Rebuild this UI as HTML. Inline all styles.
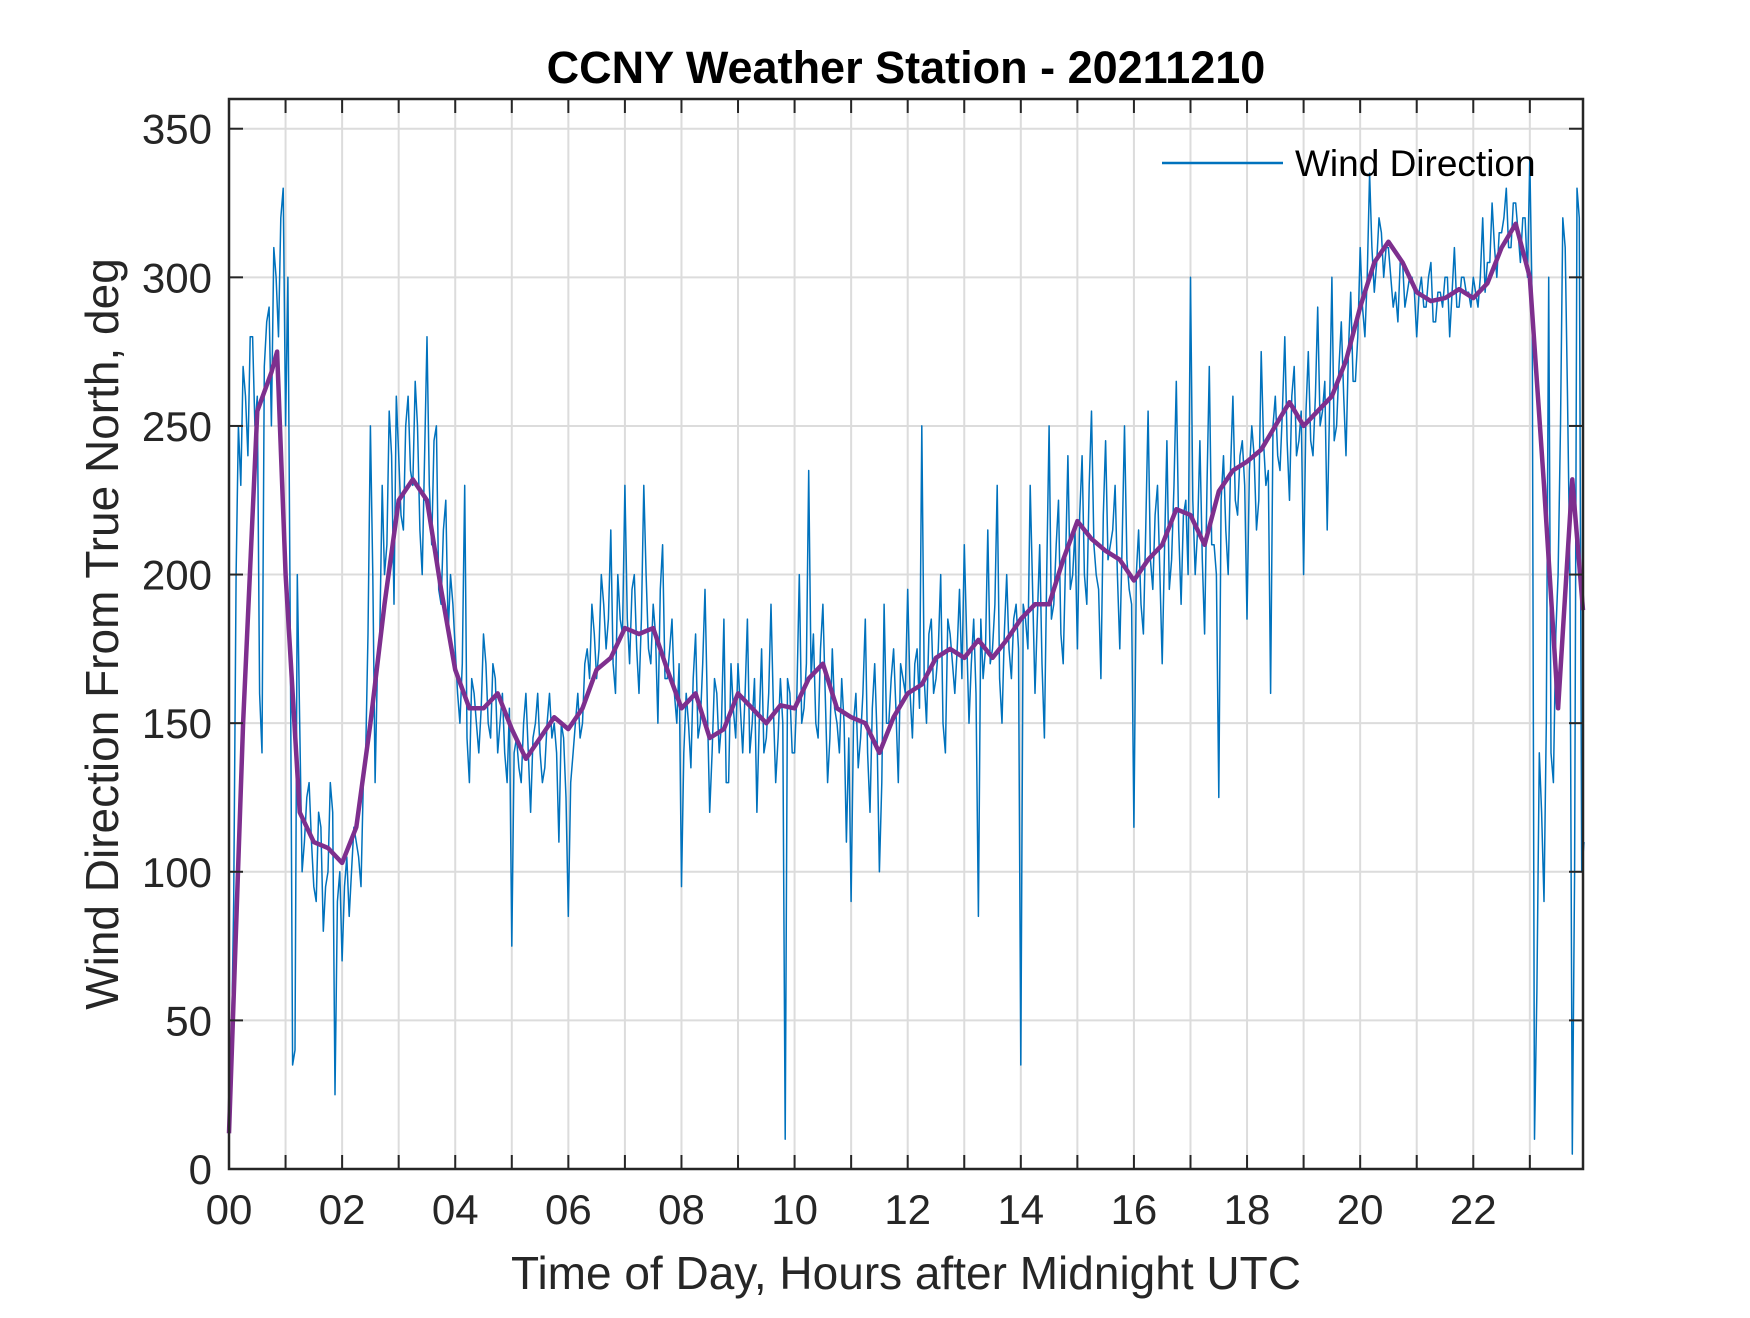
<!DOCTYPE html>
<html><head><meta charset="utf-8"><style>
html,body{margin:0;padding:0;background:#fff;}
svg text{font-family:"Liberation Sans",Arial,sans-serif;fill:#262626;}
</style></head><body>
<svg id="chart" width="1750" height="1313" viewBox="0 0 1750 1313" xmlns="http://www.w3.org/2000/svg">
<rect width="1750" height="1313" fill="#fff"/>
<g id="grid"></g>
<g id="plot"></g>
<g id="axes"></g>
<text x="906" y="83" text-anchor="middle" font-size="45" font-weight="bold" style="fill:#000">CCNY Weather Station - 20211210</text>
<text x="906" y="1289" text-anchor="middle" font-size="46">Time of Day, Hours after Midnight UTC</text>
<text transform="translate(118,634) rotate(-90)" text-anchor="middle" font-size="46">Wind Direction From True North, deg</text>
<g>
<line x1="1162" y1="163" x2="1283" y2="163" stroke="#0072BD" stroke-width="2.5"/>
<text x="1295" y="176" font-size="37" style="fill:#000">Wind Direction</text>
</g>
</svg>
<script>
const xTicks=[0,2,4,6,8,10,12,14,16,18,20,22];
const xTickLabels=["00","02","04","06","08","10","12","14","16","18","20","22"];
const yTicks=[0,50,100,150,200,250,300,350];
const smoothTimes=[0,0.25,0.5,0.75,0.85,1,1.25,1.5,1.75,2,2.25,2.5,2.75,3,3.25,3.5,3.75,4,4.25,4.5,4.75,5,5.25,5.5,5.75,6,6.25,6.5,6.75,7,7.25,7.5,7.75,8,8.25,8.5,8.75,9,9.25,9.5,9.75,10,10.25,10.5,10.75,11,11.25,11.5,11.75,12,12.25,12.5,12.75,13,13.25,13.5,13.75,14,14.25,14.5,14.75,15,15.25,15.5,15.75,16,16.25,16.5,16.75,17,17.25,17.5,17.75,18,18.25,18.5,18.75,19,19.25,19.5,19.75,20,20.25,20.5,20.75,21,21.25,21.5,21.75,22,22.25,22.5,22.75,23,23.25,23.5,23.75,23.94];
const smoothValues=[12,150,255,268,275,200,120,110,108,103,115,150,190,225,232,225,195,168,155,155,160,148,138,145,152,148,155,168,172,182,180,182,168,155,160,145,148,160,155,150,156,155,165,170,155,152,150,140,152,160,163,172,175,172,178,172,178,185,190,190,205,218,212,208,205,198,205,210,222,220,210,228,235,238,242,250,258,250,255,260,272,290,305,312,305,295,292,293,296,293,298,310,318,300,230,155,232,188];
const rawValues=[
30,90,250,270,240,280,260,140,285,250,300,320,
250,180,40,150,110,130,95,120,80,100,120,90,
70,105,100,110,95,140,250,130,180,200,255,190,
240,215,260,230,250,200,280,210,250,190,225,200,
175,150,230,130,160,140,180,150,170,140,160,130,
75,145,130,160,120,150,140,135,160,150,110,145,
85,140,160,150,175,190,165,200,175,215,160,185,
230,170,200,160,230,175,190,150,210,165,185,150,
95,160,135,180,150,195,120,165,140,185,130,155,
170,140,185,150,120,175,145,190,130,165,10,160,
140,200,155,235,180,145,190,130,175,150,165,110,
90,160,145,185,120,170,100,190,150,175,130,165,
195,145,175,250,150,185,165,200,140,180,160,195,
210,150,185,85,165,215,175,230,150,200,165,190,
35,185,230,160,210,145,250,190,225,170,240,200,
175,240,190,255,200,165,245,210,230,175,250,195,
115,215,180,255,195,230,170,245,205,265,190,225,
300,200,245,180,270,210,125,240,200,260,220,245,
185,250,215,275,230,160,260,235,280,225,270,245,
200,275,240,290,255,215,300,250,285,240,295,265,
310,280,335,295,320,300,310,290,285,305,295,300,
280,300,290,305,285,295,300,280,310,290,300,295,
300,290,320,305,325,300,315,330,310,325,305,320,
340,10,140,90,300,130,200,320,260,5,330,100];
const rawValuesMid=[
40,200,230,260,280,250,160,270,290,310,280,330,
300,35,200,100,125,110,90,115,95,130,25,100,
95,85,115,105,130,180,200,170,230,210,240,260,
220,250,235,265,215,240,230,245,195,215,180,190,
160,170,145,165,150,155,170,145,165,150,140,155,
140,135,150,140,145,160,130,150,145,140,150,125,
130,150,145,170,165,180,175,190,185,170,200,180,
185,195,175,185,200,170,180,195,165,175,160,170,
140,150,165,145,170,155,140,160,150,130,170,145,
155,160,140,165,150,140,160,155,145,150,165,140,
160,150,170,165,150,175,160,145,155,140,150,145,
150,135,160,140,155,145,130,150,165,155,170,160,
160,170,155,165,180,160,175,150,185,170,175,165,
180,170,160,185,175,170,190,165,180,175,185,175,
190,175,195,185,170,200,185,210,180,205,195,215,
220,200,230,210,195,220,205,215,200,210,205,190,
200,190,215,205,220,200,210,195,230,215,220,200,
225,215,205,230,210,200,225,215,235,225,240,230,
235,240,225,245,235,250,240,255,245,260,240,255,
255,245,260,250,265,255,245,270,260,275,265,280,
290,300,310,305,315,310,300,295,305,290,300,295,
295,290,300,285,295,290,300,295,290,300,295,290,
295,300,295,305,310,315,320,310,325,315,320,300,
290,60,120,150,140,180,250,310,200,100,320,110];
const rawStepHours=5/60;

const L=229,R=1583,T=99,B=1169,XMAX=23.94,YMAX=360;
const sx=h=>L+(h/XMAX)*(R-L);
const sy=v=>B-(v/YMAX)*(B-T);
const NS="http://www.w3.org/2000/svg";
function mk(tag,attrs,parent){const e=document.createElementNS(NS,tag);for(const k in attrs)e.setAttribute(k,attrs[k]);parent.appendChild(e);return e;}
const grid=document.getElementById('grid'),plot=document.getElementById('plot'),axes=document.getElementById('axes');

function vtick(h,major){
  const x=sx(h);
  const g=mk('line',{x1:x,y1:T,x2:x,y2:B,stroke:'#dcdcdc','stroke-width':2},grid);
  
  
  const tb=mk('line',{x1:x,y1:B,x2:x,y2:B-14,stroke:'#262626','stroke-width':2},axes);
  
  
  const tt=mk('line',{x1:x,y1:T,x2:x,y2:T+14,stroke:'#262626','stroke-width':2},axes);
  
  
}
xTicks.forEach((t,i)=>{
  vtick(t,true);
  const lb=mk('text',{x:sx(t),y:B+55,'text-anchor':'middle','font-size':42},axes);
  lb.textContent=xTickLabels[i];
  
  
});
for(let h=1;h<24;h+=2) vtick(h,false);
yTicks.forEach(t=>{
  const y=sy(t);
  const g=mk('line',{x1:L,y1:y,x2:R,y2:y,stroke:'#dcdcdc','stroke-width':2},grid);
  
  
  const tl=mk('line',{x1:L,y1:y,x2:L+14,y2:y,stroke:'#262626','stroke-width':2},axes);
  
  
  const tr=mk('line',{x1:R,y1:y,x2:R-14,y2:y,stroke:'#262626','stroke-width':2},axes);
  
  
  const lb=mk('text',{x:L-17,y:y+15,'text-anchor':'end','font-size':42},axes);
  lb.textContent=String(t);
  
  
});

const pts=[];
rawValues.forEach((v,i)=>{
  pts.push(sx(i*rawStepHours).toFixed(1)+','+sy(v).toFixed(1));
  if(i<rawValuesMid.length) pts.push(sx((i+0.5)*rawStepHours).toFixed(1)+','+sy(rawValuesMid[i]).toFixed(1));
});
const raw=mk('polyline',{points:pts.join(' '),fill:'none',stroke:'#0072BD','stroke-width':1.5,'stroke-linejoin':'round'},plot);


const smPts=smoothValues.map((v,i)=>sx(smoothTimes[i]).toFixed(1)+','+sy(v).toFixed(1)).join(' ');
const sm=mk('polyline',{points:smPts,fill:'none',stroke:'#7E2F8E','stroke-width':4.5,'stroke-linejoin':'round'},plot);



const box=mk('rect',{x:L,y:T,width:R-L,height:B-T,fill:'none',stroke:'#262626','stroke-width':2.5},axes);


</script>
</body></html>
